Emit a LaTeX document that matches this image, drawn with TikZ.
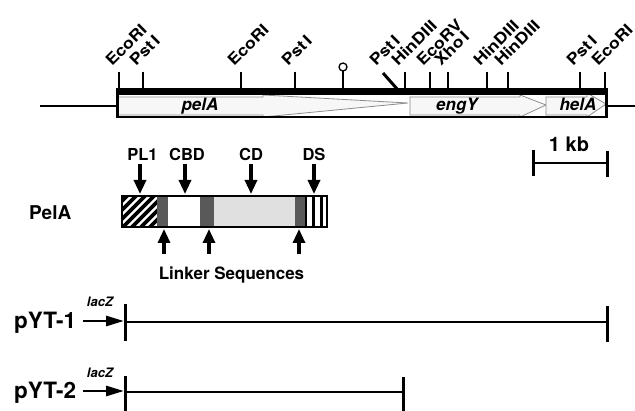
\documentclass[tikz,border=0pt]{standalone}
\usepackage{fontspec}
\setmainfont{TeX Gyre Heros}
\newfontfamily\sitefont[FakeStretch=1.15]{TeX Gyre Heros}
\usetikzlibrary{arrows.meta}
\begin{document}
\begin{tikzpicture}[x=1pt,y=-1pt,
  tick/.style={line width=2.4pt},
  sitelbl/.style={rotate=45,anchor=base west,inner sep=0pt,font=\sitefont\fontsize{15.5}{16}\selectfont\bfseries},
  genelbl/.style={anchor=base,inner sep=0pt,font=\fontsize{17}{18}\selectfont\bfseries\itshape},
  domlbl/.style={anchor=base,inner sep=0pt,font=\fontsize{16.5}{17}\selectfont\bfseries},
  biglbl/.style={anchor=base west,inner sep=0pt,font=\fontsize{22.5}{24}\selectfont\bfseries},
  laclbl/.style={inner sep=0pt,font=\fontsize{13}{14}\selectfont\bfseries\itshape},
  geneshape/.style={fill=black!3,draw=black!45,line width=0.8pt},
  domarrow/.style={line width=3.2pt,-{Triangle[length=14pt,width=12pt]}},
  lacarrow/.style={line width=2.8pt,-{Triangle[length=18pt,width=10pt]}},
  bar/.style={line width=2.8pt},
  endtick/.style={line width=3pt}
]
\useasboundingbox (0,0) rectangle (635,411);

% ---------- restriction map ----------
\draw[bar] (40,106) -- (117,106);
\draw[bar] (606,106) -- (635,106);
\fill[white] (117,90) rectangle (607,118);
% gene arrows
\draw[geneshape] (118,97) -- (263,97) -- (263,95) -- (408,103) -- (263,117) -- (263,115) -- (118,115) -- cycle;
\draw[geneshape] (410,97) -- (520,97) -- (520,95) -- (546,105) -- (520,117) -- (520,115) -- (410,115) -- cycle;
\draw[geneshape] (546,97) -- (587,97) -- (587,93) -- (606,104) -- (587,117) -- (587,115) -- (546,115) -- cycle;
% bar borders
\fill (116,88.5) rectangle (607.5,95);
\draw[line width=2.4pt] (116,117.3) -- (607.5,117.3);
\draw[line width=2.6pt] (117.3,88.5) -- (117.3,118.5);
\draw[line width=2.2pt] (606.4,88.5) -- (606.4,118.5);

\node[genelbl] (pelA) at (200,111) {pelA};
\node[genelbl] (engY) at (457,111) {engY};
\node[genelbl] (helA) at (578,111) {helA};

% sites
\foreach \x/\nm/\lbl in {119/s1/EcoRI, 143/s2/Pst\,I, 241/s3/EcoRI, 295/s4/Pst\,I,
  405/s6/HinDIII, 430/s7/EcoRV, 448/s8/Xho\,I, 487/s9/HinDIII, 508/s10/HinDIII,
  580/s11/Pst\,I, 605/s12/EcoRI}{
  \draw[tick] (\x,72) -- (\x,90);
  \node[sitelbl] (\nm) at (\x-7,67) {\lbl};
}
\draw[line width=3pt] (383,73) -- (398,90);
\node[sitelbl] (s5) at (376,67) {Pst\,I};
% terminator
\draw[line width=1.3pt] (343,71) -- (343,90);
\draw[line width=1.3pt,fill=white] (343,67) circle (4);

% scale bar
\draw[line width=2.6pt] (533,163) -- (607,163);
\draw[endtick] (533,150) -- (533,176);
\draw[endtick] (607,151) -- (607,177);
\node[anchor=base,inner sep=0pt,font=\fontsize{20}{21}\selectfont\bfseries] (kb) at (569,152) {1 kb};

% ---------- PelA domain structure ----------
\node[anchor=base west,inner sep=0pt,font=\fontsize{19}{20}\selectfont\bfseries] (PelA) at (29,220) {PelA};
\fill[white] (122,196) rectangle (327,227);
\begin{scope}
  \clip (122,196) rectangle (157,227);
  \foreach \i in {-40,-31,...,40}{
    \draw[line width=3.6pt] ({122+\i},232) -- ++(40,-40);
  }
\end{scope}
\fill[black!65] (157,196) rectangle (168,227);
\fill[black!65] (200,196) rectangle (214,227);
\fill[black!12] (214,196) rectangle (295,227);
\fill[black!65] (295,196) rectangle (305,227);
\fill (304.5,196) rectangle (306.5,227);
\fill (312,196) rectangle (315,227);
\fill (319.5,196) rectangle (322.5,227);
\draw[line width=1.8pt] (122,196) rectangle (327,227);

\node[domlbl] (PL1) at (142.5,161) {PL1};
\node[domlbl] (CBD) at (187,161) {CBD};
\node[domlbl] (CD) at (251,161) {CD};
\node[domlbl] (DS) at (314,161) {DS};
\coordinate (PL1t) at (140,194);
\coordinate (CBDt) at (185,194);
\coordinate (CDt) at (251,194);
\coordinate (DSt) at (314,194);
\draw[domarrow] (140,164) -- (PL1t);
\draw[domarrow] (185,164) -- (CBDt);
\draw[domarrow] (251,164) -- (CDt);
\draw[domarrow] (314,164) -- (DSt);

\node[domlbl,font=\fontsize{17}{18}\selectfont\bfseries] (linker) at (231.5,280) {Linker Sequences};
\coordinate (L1) at (164,229);
\coordinate (L2) at (209,229);
\coordinate (L3) at (299,229);
\draw[domarrow] (164,254) -- (L1);
\draw[domarrow] (209,254) -- (L2);
\draw[domarrow] (299,254) -- (L3);

% ---------- constructs ----------
\node[biglbl] (pYT1) at (14,329) {pYT-1};
\node[laclbl] (lac1) at (100,302) {lacZ};
\coordinate (a1) at (124,321);
\draw[lacarrow] (83,321) -- (a1);
\draw[bar] (125,322) -- (607,322);
\draw[endtick] (125,304) -- (125,341);
\draw[endtick] (607,306) -- (607,342);

\node[biglbl] (pYT2) at (14,399) {pYT-2};
\node[laclbl] (lac2) at (100,373) {lacZ};
\coordinate (a2) at (124,391);
\draw[lacarrow] (83,391) -- (a2);
\draw[bar] (125,392) -- (403,392);
\draw[endtick] (125,376) -- (125,411);
\draw[endtick] (403,377) -- (403,411);
\end{tikzpicture}
\end{document}
